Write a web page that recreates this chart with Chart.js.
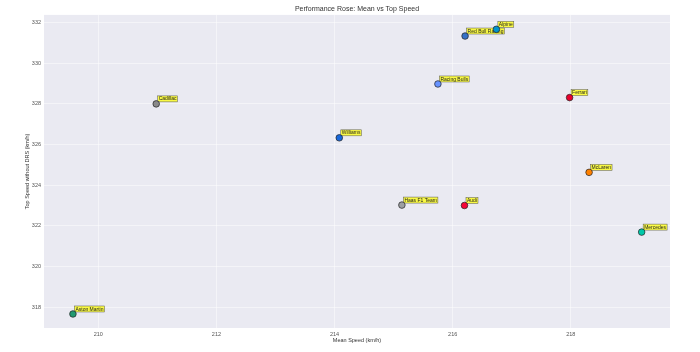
<!DOCTYPE html>
<html>
<head>
<meta charset="utf-8">
<script src="https://cdn.jsdelivr.net/npm/chart.js@4/dist/chart.umd.min.js"></script>
<style>
  html, body { margin: 0; padding: 0; background: #fff; }
  #wrap { width: 700px; height: 352px; }
</style>
</head>
<body>
<div id="wrap"><canvas id="chart" width="700" height="352"></canvas></div>
<script>
// team data
const teams = ['Aston Martin', 'Cadillac', 'Williams', 'Red Bull Racing', 'Alpine', 'Racing Bulls',
  'Ferrari', 'McLaren', 'Haas F1 Team', 'Audi', 'Mercedes'];
const meanSpeed = [209.57, 210.98, 214.08, 216.21, 216.74, 215.75, 217.98, 218.31, 215.14, 216.20, 219.20];
const topSpeed = [317.66, 328.00, 326.33, 331.34, 331.67, 328.98, 328.31, 324.63, 323.02, 323.00, 321.69];
const teamColors = ['#229971', '#8a8a8a', '#1868DB', '#3671C6', '#0093CC', '#6692FF',
  '#E8002D', '#FF8000', '#9c9fa2', '#F50537', '#00C8AA'];
const xTicks = [210, 212, 214, 216, 218];
const yTicks = [318, 320, 322, 324, 326, 328, 330, 332];

const FONT = "'Liberation Sans', Arial, sans-serif";

// lavender plot background like seaborn darkgrid
const plotBg = {
  id: 'plotBg',
  beforeDraw(chart) {
    const { ctx, chartArea: a } = chart;
    ctx.save();
    ctx.fillStyle = '#EAEAF2';
    ctx.fillRect(a.left, a.top, a.right - a.left, a.bottom - a.top);
    ctx.restore();
  }
};

// yellow annotation boxes next to each point (drawn under the markers)
const teamLabels = {
  id: 'teamLabels',
  beforeDatasetsDraw(chart) {
    const { ctx } = chart;
    const meta = chart.getDatasetMeta(0);
    ctx.save();
    ctx.font = '5px ' + FONT;
    ctx.textBaseline = 'middle';
    meta.data.forEach((pt, i) => {
      const txt = teams[i];
      const w = ctx.measureText(txt).width;
      const bx = pt.x + 1.5, by = pt.y - 8;
      ctx.fillStyle = 'rgba(255,255,0,0.72)';
      ctx.fillRect(bx, by, w + 2, 6);
      ctx.strokeStyle = '#555';
      ctx.lineWidth = 0.5;
      ctx.strokeRect(bx, by, w + 2, 6);
      ctx.fillStyle = '#222';
      ctx.fillText(txt, bx + 1, by + 3.2);
    });
    ctx.restore();
  }
};

new Chart(document.getElementById('chart'), {
  type: 'scatter',
  data: {
    datasets: [{
      data: meanSpeed.map((x, i) => ({ x: x, y: topSpeed[i] })),
      pointBackgroundColor: teamColors,
      pointBorderColor: '#222',
      pointBorderWidth: 0.7,
      pointRadius: 3.3
    }]
  },
  options: {
    responsive: false,
    animation: false,
    layout: { padding: { left: 0, right: 30, top: 0, bottom: 0 } },
    plugins: {
      legend: { display: false },
      tooltip: { enabled: false },
      title: {
        display: true,
        text: 'Performance Rose: Mean vs Top Speed',
        color: '#333',
        fullSize: false,
        font: { family: FONT, size: 7, weight: 'normal' },
        padding: { top: 4.5, bottom: 2 }
      }
    },
    scales: {
      x: {
        type: 'linear',
        min: 209.08,
        max: 219.68,
        afterBuildTicks: s => { s.ticks = xTicks.map(v => ({ value: v })); },
        afterFit: s => { s.height = 24; },
        grid: { color: 'rgba(255,255,255,0.6)', lineWidth: 0.8, drawTicks: false },
        border: { display: false },
        ticks: { color: '#555', padding: 3, font: { family: FONT, size: 5.5 } },
        title: {
          display: true,
          text: 'Mean Speed (km/h)',
          color: '#333',
          font: { family: FONT, size: 5.5 },
          padding: { top: 0, bottom: 8 }
        }
      },
      y: {
        type: 'linear',
        min: 316.97,
        max: 332.38,
        afterBuildTicks: s => { s.ticks = yTicks.map(v => ({ value: v })); },
        afterFit: s => { s.width = 44; },
        grid: { color: 'rgba(255,255,255,0.6)', lineWidth: 0.8, drawTicks: false },
        border: { display: false },
        ticks: { color: '#555', padding: 3, font: { family: FONT, size: 5.5 } },
        title: {
          display: true,
          text: 'Top Speed without DRS (km/h)',
          color: '#333',
          font: { family: FONT, size: 5.5 },
          padding: { top: 24, bottom: 0 }
        }
      }
    }
  },
  plugins: [plotBg, teamLabels]
});
</script>
</body>
</html>
